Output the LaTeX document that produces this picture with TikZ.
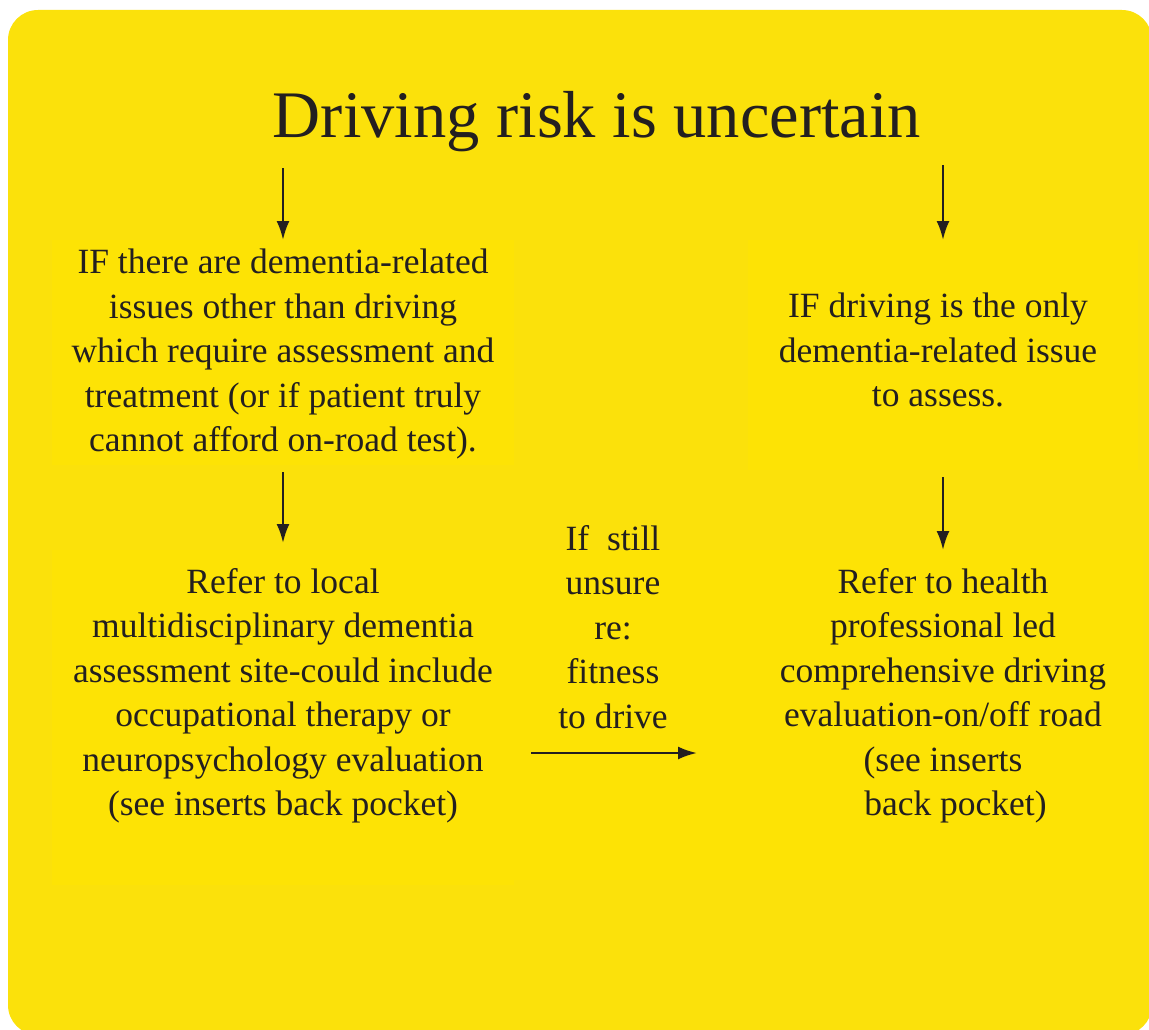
\documentclass[tikz,border=0pt]{standalone}
\usepackage{fontspec}
\setmainfont{Liberation Serif}
\usetikzlibrary{arrows.meta}

\definecolor{signyellow}{HTML}{FBE10B}
\definecolor{panelyellow}{HTML}{FDE305}
\definecolor{ink}{HTML}{231F20}

\tikzset{
  flow/.style={-{Latex[length=19pt,width=13pt]},line width=2.4pt,draw=ink},
  panel/.style={fill=panelyellow,inner sep=0pt,outer sep=0pt},
  txt/.style={align=center,inner sep=0pt,text=ink,font=\fontsize{35.5}{44.5}\selectfont},
}

\begin{document}
\begin{tikzpicture}[x=1pt,y=-1pt]
\useasboundingbox (0,0) rectangle (1149,1030) ;
\clip (0,0) rectangle (1149,1030) ;
\fill[signyellow,rounded corners=30pt] (8,10) rectangle (1152,1035) ;

% faint panels behind the text
\node[panel,minimum width=462pt,minimum height=225pt] (otherbox) at (283,352.5) {} ;
\node[panel,minimum width=390pt,minimum height=230pt] (onlybox) at (943,355) {} ;
\node[panel,minimum width=462pt,minimum height=335pt] (localbox) at (283,717.5) {} ;
\node[panel,minimum width=631pt,minimum height=330pt] (healthbox) at (827.5,715) {} ;

\node[txt,font=\fontsize{66.5}{70}\selectfont] (title) at (597,122) {Driving risk is uncertain} ;

\node[txt] (other) at (283,354) {IF there are dementia-related\\issues other than driving\\which require assessment and\\treatment (or if patient truly\\cannot afford on-road test).} ;
\node[txt] (only) at (938,350) {IF driving is the only\\dementia-related issue\\to assess.} ;
\node[txt] (local) at (283,696) {Refer to local\\multidisciplinary dementia\\assessment site-could include\\occupational therapy or\\neuropsychology evaluation\\(see inserts back pocket)} ;
\node[txt] (unsure) at (613,627) {If~ still\\unsure\\re:\\fitness\\to drive} ;
\node[txt] (health) at (943,696) {Refer to health\\professional led\\comprehensive driving\\evaluation-on/off road\\(see inserts\\\hspace*{0.7em}back pocket)} ;

\coordinate (ul) at (531,753) ;
\coordinate (ur) at (697,753) ;

\draw[flow,shorten <=16pt] (title.south -| otherbox) -- (otherbox) ;
\draw[flow,shorten <=13pt] (title.south -| onlybox) -- (onlybox) ;
\draw[flow,shorten <=7pt,shorten >=7pt] (otherbox) -- (localbox) ;
\draw[flow,shorten <=7pt] (onlybox) -- (healthbox.north -| onlybox) ;
\draw[flow] (ul) -- (ur) ;

\end{tikzpicture}
\end{document}
